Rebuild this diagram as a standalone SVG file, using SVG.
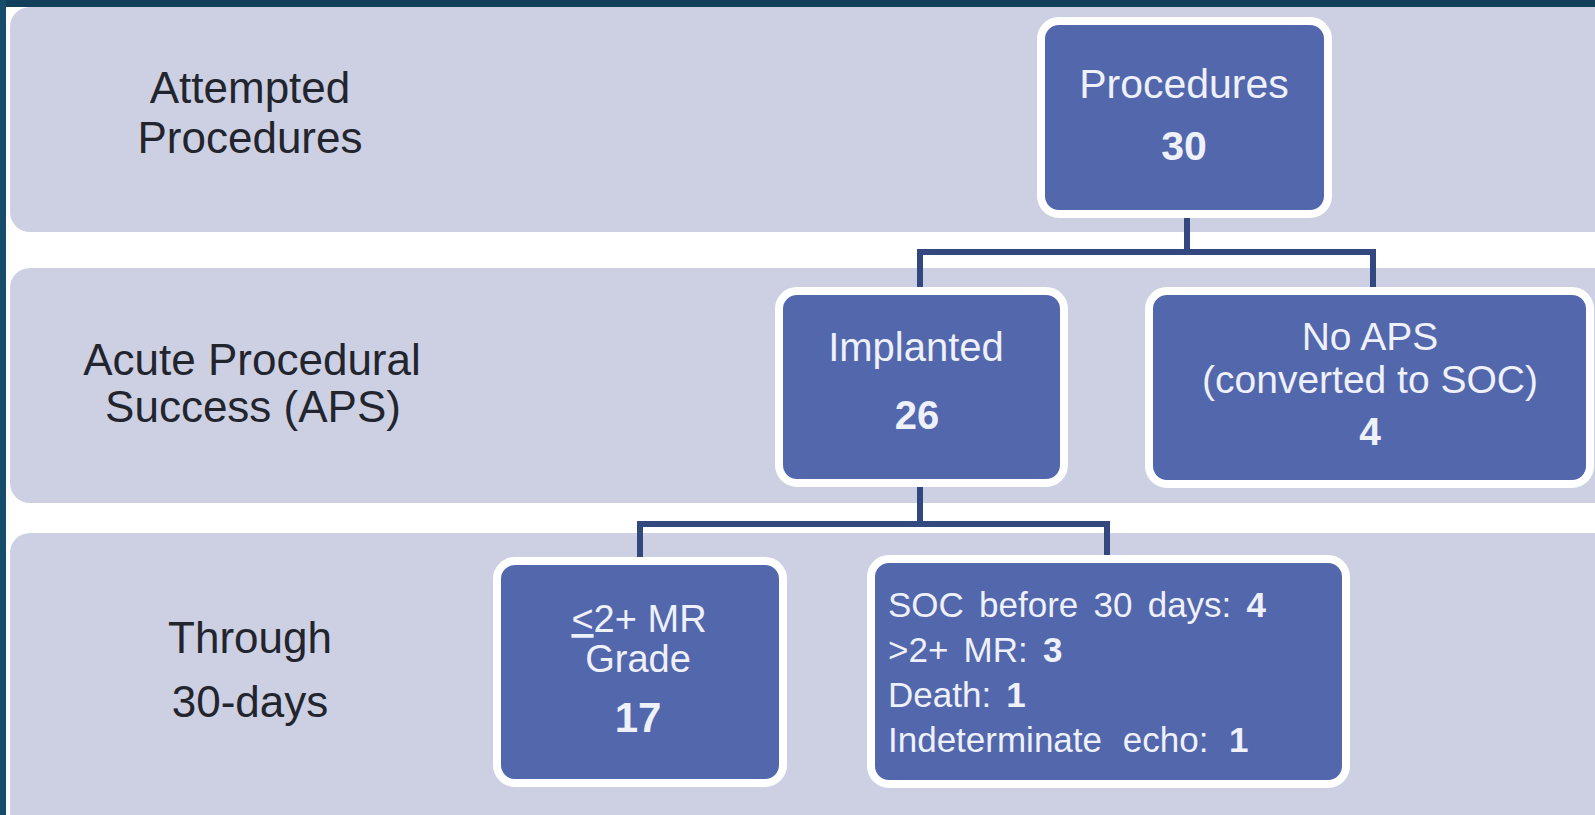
<svg xmlns="http://www.w3.org/2000/svg" width="1595" height="815" viewBox="0 0 1595 815">
<style>
.band{fill:#cdd0e3}
.box{fill:#5367ad;stroke:#ffffff;stroke-width:8}
.lbl{font-family:"Liberation Sans",Arial,sans-serif;font-size:44px;fill:#23252e;text-anchor:middle}
.bt{font-family:"Liberation Sans",Arial,sans-serif;font-size:40px;fill:#eef0fa;text-anchor:middle}
.lt{font-family:"Liberation Sans",Arial,sans-serif;font-size:35px;fill:#eef0fa;word-spacing:5.5px}
.b{font-weight:bold}
.con{fill:none;stroke:#33487e;stroke-width:6}
</style>
<rect x="0" y="0" width="1595" height="815" fill="#ffffff"/>
<rect x="0" y="0" width="1595" height="7" fill="#123f5a"/>
<rect x="0" y="0" width="6" height="815" fill="#164d6b"/>
<g id="bands">
<rect class="band" x="10" y="7" width="1610" height="225" rx="20"/>
<rect class="band" x="10" y="268" width="1610" height="235" rx="20"/>
<rect class="band" x="10" y="533" width="1610" height="300" rx="20"/>
</g>
<g id="row-labels">
<text class="lbl" x="250" y="103">Attempted</text>
<text class="lbl" x="250" y="153">Procedures</text>
<text class="lbl" x="252" y="375">Acute Procedural</text>
<text class="lbl" x="253" y="422">Success (APS)</text>
<text class="lbl" x="250" y="653">Through</text>
<text class="lbl" x="250" y="717">30-days</text>
</g>
<g id="connectors">
<path class="con" d="M1187 214 V252 H920 V291"/>
<path class="con" d="M1187 252 H1373 V291"/>
<path class="con" d="M920 483 V524 H640 V561"/>
<path class="con" d="M920 524 H1107 V559"/>
</g>
<g id="node-procedures">
<rect class="box" x="1041" y="21" width="287" height="193" rx="18"/>
<text class="bt" x="1184" y="98" style="font-size:41px">Procedures</text>
<text class="bt b" x="1184" y="160" style="font-size:41px">30</text>
</g>
<g id="node-implanted">
<rect class="box" x="779" y="291" width="285" height="192" rx="18"/>
<text class="bt" x="916" y="361">Implanted</text>
<text class="bt b" x="917" y="429">26</text>
</g>
<g id="node-noaps">
<rect class="box" x="1149" y="291" width="441" height="193" rx="18"/>
<text class="bt" x="1370" y="350" style="font-size:39px">No APS</text>
<text class="bt" x="1370" y="393" style="font-size:39px">(converted to SOC)</text>
<text class="bt b" x="1370" y="445" style="font-size:39px">4</text>
</g>
<g id="node-mrgrade">
<rect class="box" x="497" y="561" width="286" height="222" rx="18"/>
<text class="bt" x="639" y="632" style="font-size:38px"><tspan text-decoration="underline">&lt;</tspan>2+ MR</text>
<text class="bt" x="638" y="672" style="font-size:38px">Grade</text>
<text class="bt b" x="638" y="732" style="font-size:42px">17</text>
</g>
<g id="node-outcomes">
<rect class="box" x="871" y="559" width="475" height="225" rx="18"/>
<text class="lt" x="888" y="617">SOC before 30 days: <tspan class="b">4</tspan></text>
<text class="lt" x="888" y="662">&gt;2+ MR: <tspan class="b">3</tspan></text>
<text class="lt" x="888" y="707">Death: <tspan class="b">1</tspan></text>
<text class="lt" x="888" y="752" style="word-spacing:11px">Indeterminate echo: <tspan class="b">1</tspan></text>
</g>
</svg>
